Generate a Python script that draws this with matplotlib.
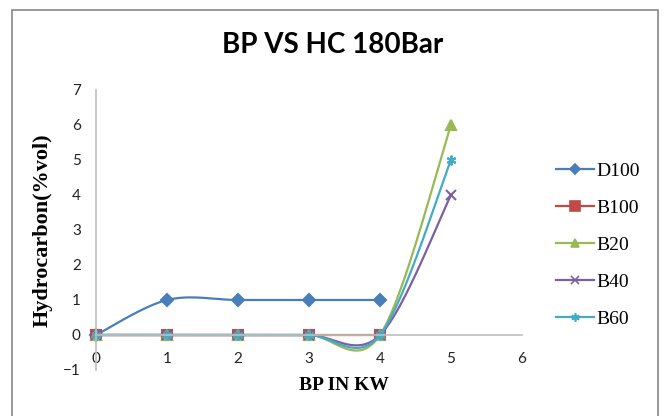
import numpy as np
import matplotlib.pyplot as plt
from matplotlib.lines import Line2D

bp = [0, 1, 2, 3, 4, 5]
series_names = ['D100', 'B100', 'B20', 'B40', 'B60']
d100 = [0, 1, 1, 1, 1]
b100 = [0, 0, 0, 0, 0]
b20 = [0, 0, 0, 0, 0, 6]
b40 = [0, 0, 0, 0, 0, 4]
b60 = [0, 0, 0, 0, 0, 5]
x_ticks = [0, 1, 2, 3, 4, 5, 6]
y_ticks = [-1, 0, 1, 2, 3, 4, 5, 6, 7]

colors = ['#4A7EBB', '#BE4B48', '#98B954', '#7D60A0', '#46AAC5']
markers = ['D', 's', '^', 'x', (6, 2, 0)]
msizes = [6, 7, 7, 7, 7]
leg_sizes = [5, 7, 6, 6, 6]


def smooth(xs, ys, n=40):
    # Excel-style smoothed line (Catmull-Rom as cubic Bezier)
    xs = np.asarray(xs, float)
    ys = np.asarray(ys, float)
    px, py = [], []
    m = len(xs)
    for i in range(m - 1):
        x0, y0 = (xs[i - 1], ys[i - 1]) if i > 0 else (xs[i], ys[i])
        x3, y3 = (xs[i + 2], ys[i + 2]) if i + 2 < m else (xs[i + 1], ys[i + 1])
        c1x = xs[i] + (xs[i + 1] - x0) / 6
        c1y = ys[i] + (ys[i + 1] - y0) / 6
        c2x = xs[i + 1] - (x3 - xs[i]) / 6
        c2y = ys[i + 1] - (y3 - ys[i]) / 6
        t = np.linspace(0, 1, n)
        a, b, c, d = (1 - t) ** 3, 3 * t * (1 - t) ** 2, 3 * t ** 2 * (1 - t), t ** 3
        px.extend(a * xs[i] + b * c1x + c * c2x + d * xs[i + 1])
        py.extend(a * ys[i] + b * c1y + c * c2y + d * ys[i + 1])
    return px, py


fig = plt.figure(figsize=(6.65, 4.16), dpi=100)
ax = fig.add_axes([0.1444, 0.1106, 0.6406, 0.6731])

# outer chart border
fig.patches.append(plt.Rectangle((12 / 665, -0.02), 646 / 665, 1.02 - 10 / 416,
                                 transform=fig.transFigure, fill=False,
                                 edgecolor='#868686', linewidth=1.2))

handles = []
for vals, name, col, mk, ms, ls in zip([d100, b100, b20, b40, b60], series_names,
                                       colors, markers, msizes, leg_sizes):
    xs = bp[:len(vals)]
    sx, sy = smooth(xs, vals)
    ax.plot(sx, sy, color=col, linewidth=1.6, clip_on=False)
    ax.plot(xs, vals, linestyle='none', marker=mk, markersize=ms, color=col,
            markeredgecolor=col, markeredgewidth=1.5, clip_on=False)
    handles.append(Line2D([], [], color=col, linewidth=1.6, marker=mk,
                          markersize=ls, markeredgewidth=1.2, label=name))

ax.set_xlim(0, 6)
ax.set_ylim(-1, 7)
ax.set_xticks(x_ticks)
ax.set_yticks(y_ticks)
for s in ['top', 'right']:
    ax.spines[s].set_visible(False)
ax.spines['bottom'].set_position(('data', 0))
ax.spines['bottom'].set_color('#BFBFBF')
ax.spines['left'].set_color('#BFBFBF')
ax.spines['bottom'].set_linewidth(1.2)
ax.spines['left'].set_linewidth(1.2)
ax.tick_params(axis='x', length=0, labelsize=11, colors='#222222', pad=12)
ax.tick_params(axis='y', length=0, labelsize=11, colors='#222222', pad=11)
for lab in ax.get_xticklabels() + ax.get_yticklabels():
    lab.set_family('Lato')

fig.text(0.5, 1 - 45 / 416, 'BP VS HC 180Bar', ha='center', va='center',
         fontsize=20, fontweight='bold', family='Lato')
fig.text(0.517, 1 - 385 / 416, 'BP IN KW', ha='center', va='center',
         fontsize=14, fontweight='bold', family='Liberation Serif')
fig.text(43 / 665, 1 - 230 / 416, 'Hydrocarbon(%vol)', ha='center', va='center',
         rotation=90, fontsize=16, fontweight='bold', family='Liberation Serif')

fig.legend(handles=handles, loc='center left', bbox_to_anchor=(538 / 665, 1 - 245 / 416),
           frameon=False, prop={'family': 'Liberation Serif', 'size': 14},
           handlelength=2.0, handletextpad=0.1, labelspacing=1.0)

plt.savefig('out.png', dpi=100)
plt.close()
